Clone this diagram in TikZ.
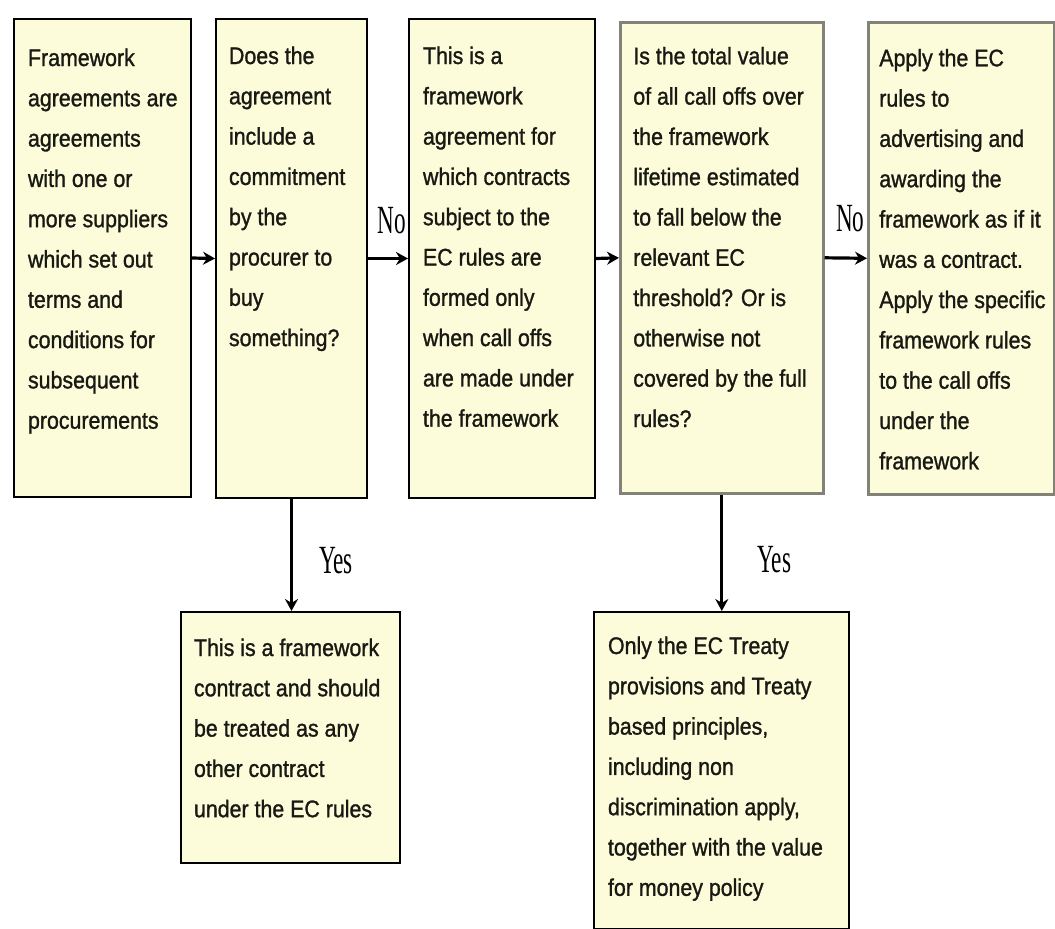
\documentclass[tikz,border=0pt]{standalone}
\usepackage{fontspec}
\usetikzlibrary{arrows.meta}
\newfontfamily\bodyf{Liberation Sans}[FakeStretch=0.89,FakeBold=1.2]
\newfontfamily\lblf{Liberation Serif}[FakeStretch=0.58]
\definecolor{boxfill}{RGB}{253,252,218}
\definecolor{greyedge}{RGB}{130,130,120}
\definecolor{txtcol}{RGB}{25,25,20}
\newcommand{\txtlines}[2]{\makebox[#1][l]{\begin{tabular}[t]{@{}l@{}}#2\end{tabular}}}
\tikzset{
  fbox/.style={draw=black, line width=2pt, fill=boxfill, inner ysep=0pt, text=txtcol,
    anchor=north west, font=\bodyf\fontsize{24}{40.3}\selectfont},
  gbox/.style={fbox, draw=greyedge, line width=2.6pt},
  arr/.style={line width=3.2pt, -{Stealth[length=12pt,width=13pt]}},
  lbl/.style={font=\lblf\fontsize{40}{40}\selectfont, inner sep=0pt}
}
\begin{document}
\begin{tikzpicture}[x=1pt,y=-1pt]
\useasboundingbox[fill=white] (0,0) rectangle (1055,929);

\node[fbox, inner xsep=14pt, text height=47pt, text depth=431pt] (b1) at (13,18)
 {\txtlines{149pt}{Framework\\agreements are\\agreements\\with one or\\more suppliers\\which set out\\terms and\\conditions for\\subsequent\\procurements}};

\node[fbox, inner xsep=13pt, text height=45pt, text depth=434pt] (b2) at (215,18)
 {\txtlines{125pt}{Does the\\agreement\\include a\\commitment\\by the\\procurer to\\buy\\something?}};

\node[fbox, inner xsep=14pt, text height=45pt, text depth=434pt] (b3) at (408,18)
 {\txtlines{158pt}{This is a\\framework\\agreement for\\which contracts\\subject to the\\EC rules are\\formed only\\when call offs\\are made under\\the framework}};

\node[gbox, inner xsep=13pt, text height=42pt, text depth=429pt] (b4) at (619,21)
 {\txtlines{177pt}{Is the total value\\of all call offs over\\the framework\\lifetime estimated\\to fall below the\\relevant EC\\threshold? Or is\\otherwise not\\covered by the full\\rules?}};

\node[gbox, inner xsep=11pt, text height=44pt, text depth=428pt] (b5) at (867,21)
 {\txtlines{164pt}{Apply the EC\\rules to\\advertising and\\awarding the\\framework as if it\\was a contract.\\Apply the specific\\framework rules\\to the call offs\\under the\\framework}};

\node[fbox, inner xsep=13pt, text height=44pt, text depth=207pt] (b6) at (180,611)
 {\txtlines{193pt}{This is a framework\\contract and should\\be treated as any\\other contract\\under the EC rules}};

\node[fbox, inner xsep=14pt, text height=42pt, text depth=275pt] (b7) at (593,611)
 {\txtlines{227pt}{Only the EC Treaty\\provisions and Treaty\\based principles,\\including non\\discrimination apply,\\together with the value\\for money policy}};

\draw[arr] (b1.east) -- (b2.west);
\draw[arr] (b2.east) -- node[lbl, anchor=base, xshift=4pt, yshift=25pt] (no1) {No} (b3.west);
\draw[arr] (b3.east) -- (b4.west);
\draw[arr] (b4.east) -- node[lbl, anchor=base, xshift=4.5pt, yshift=27pt] (no2) {No} (b5.west);
\draw[arr] (b2.south) -- node[lbl, anchor=base west, xshift=26pt, yshift=-18pt] (yes1) {Yes} (b2.south |- b6.north);
\draw[arr] (b4.south) -- node[lbl, anchor=base west, xshift=34pt, yshift=-20pt] (yes2) {Yes} (b4.south |- b7.north);
\end{tikzpicture}
\end{document}
